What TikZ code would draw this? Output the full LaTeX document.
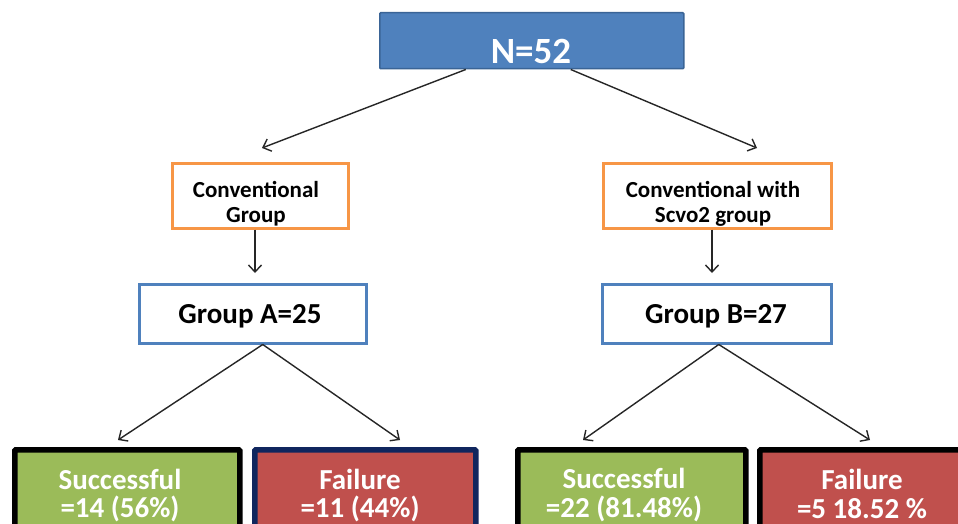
\documentclass[tikz,border=0pt]{standalone}
\usepackage{fontspec}
\setmainfont{Carlito}
\usetikzlibrary{arrows.meta}
\definecolor{nblue}{HTML}{4F81BD}
\definecolor{nbluedark}{HTML}{3A6496}
\definecolor{norange}{HTML}{F79646}
\definecolor{ngreen}{HTML}{9BBB59}
\definecolor{nred}{HTML}{C0504D}
\definecolor{nnavy}{HTML}{10265E}
\begin{document}
\begin{tikzpicture}[x=1pt,y=-1pt,
  box/.style={inner sep=0pt, anchor=north west},
  topbox/.style={box, fill=nblue, draw=nbluedark, line width=1.5pt, rounded corners=1pt},
  orbox/.style={box, fill=white, draw=norange, line width=2.5pt},
  grbox/.style={box, fill=white, draw=nblue, line width=2.5pt},
  okbox/.style={box, fill=ngreen, draw=black, line width=5.5pt, rounded corners=1pt},
  badbox/.style={box, fill=nred, draw=black, line width=5.5pt, rounded corners=1pt},
  txt/.style={inner sep=0pt, anchor=base, font=\bfseries},
  midtxt/.style={txt, font=\bfseries\fontsize{23}{25}\selectfont},
  bottxt/.style={txt, text=white, font=\bfseries\fontsize{29}{29}\selectfont},
  arr/.style={-{Straight Barb[length=7pt,width=13pt,line width=1.4pt]}, line width=1.4pt, draw=black!85}
]
\useasboundingbox (0,0) rectangle (958,524);
\clip (0,0) rectangle (958,524);
\fill[white] (0,0) rectangle (958,524);

% top
\node[topbox, minimum width=304pt, minimum height=56pt] (top) at (379,12) {};
\node[txt, text=white, font=\bfseries\fontsize{37}{37}\selectfont] (topt) at (531,64) {N=52};

% second level
\node[orbox, minimum width=176pt, minimum height=65pt] (convA) at (171,162) {};
\node[orbox, minimum width=228pt, minimum height=65pt] (convB) at (602,162) {};
\node[midtxt] (convAt1) at (256,197) {Conventional};
\node[midtxt] (convAt2) at (256,222) {Group};
\node[midtxt] (convBt1) at (713,197) {Conventional with};
\node[midtxt] (convBt2) at (713,222) {Scvo2 group};

% third level
\node[grbox, minimum width=227pt, minimum height=59pt] (gA) at (138,283) {};
\node[grbox, minimum width=229pt, minimum height=59pt] (gB) at (601,283) {};
\node[txt, font=\bfseries\fontsize{29}{29}\selectfont] (gAt) at (250,323) {Group A=25};
\node[txt, font=\bfseries\fontsize{29}{29}\selectfont] (gBt) at (716,323) {Group B=27};

% bottom
\node[okbox, minimum width=225pt, minimum height=110pt] (sA) at (12,447) {};
\node[badbox, draw=nnavy, minimum width=221pt, minimum height=110pt] (fA) at (252,447) {};
\node[okbox, minimum width=228pt, minimum height=110pt] (sB) at (515,447) {};
\node[badbox, minimum width=230pt, minimum height=110pt] (fB) at (757,447) {};
\node[bottxt] (sAt1) at (120,489) {Successful};
\node[bottxt] (sAt2) at (120,517) {=14 (56\%)};
\node[bottxt] (fAt1) at (360,489) {Failure};
\node[bottxt] (fAt2) at (360,517) {=11 (44\%)};
\node[bottxt] (sBt1) at (624,488) {Successful};
\node[bottxt] (sBt2) at (624,517) {=22 (81.48\%)};
\node[bottxt] (fBt1) at (862,489) {Failure};
\node[bottxt] (fBt2) at (862,518) {=5 18.52 \%};

% arrow end points
\coordinate (tA) at (262,148);
\coordinate (tB) at (757,148);
\coordinate (dA) at (255,273);
\coordinate (dB) at (712,273);
\coordinate (sAa) at (118,440);
\coordinate (fAa) at (400,440);
\coordinate (sBa) at (583,440);
\coordinate (fBa) at (870,440);

\draw[arr] ([xshift=-66pt]top.south) -- (tA);
\draw[arr] ([xshift=39pt]top.south) -- (tB);
\draw[arr] (convA.south -| dA) -- (dA);
\draw[arr] (convB.south -| dB) -- (dB);
\draw[arr] ([xshift=10pt]gA.south) -- (sAa);
\draw[arr] ([xshift=10pt]gA.south) -- (fAa);
\draw[arr] ([xshift=2pt]gB.south) -- (sBa);
\draw[arr] ([xshift=2pt]gB.south) -- (fBa);
\end{tikzpicture}
\end{document}
